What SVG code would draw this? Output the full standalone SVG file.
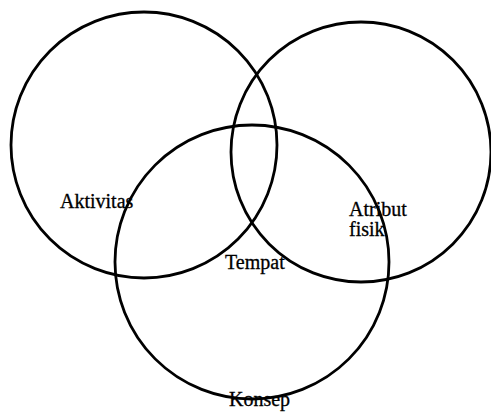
<svg xmlns="http://www.w3.org/2000/svg" width="491" height="413" viewBox="0 0 491 413">
<style>
.ring{fill:none;stroke:#000;stroke-width:2.8}
.lbl{font-family:"Liberation Serif","Times New Roman",serif;font-size:20px;fill:#000;stroke:#000;stroke-width:0.3}
</style>
<rect width="491" height="413" fill="#fff"/>
<g id="aktivitas">
<circle class="ring" cx="144" cy="145" r="133"/>
<text class="lbl" x="60" y="208">Aktivitas</text>
</g>
<g id="atribut-fisik">
<circle class="ring" cx="361" cy="152" r="130"/>
<text class="lbl" x="349" y="216"><tspan x="349">Atribut</tspan><tspan x="349" dy="20">fisik</tspan></text>
</g>
<g id="konsep">
<circle class="ring" cx="252" cy="262" r="137"/>
<text class="lbl" x="229" y="406">Konsep</text>
</g>
<g id="tempat">
<text class="lbl" x="225" y="269">Tempat</text>
</g>
<g id="connectors"></g>
</svg>
